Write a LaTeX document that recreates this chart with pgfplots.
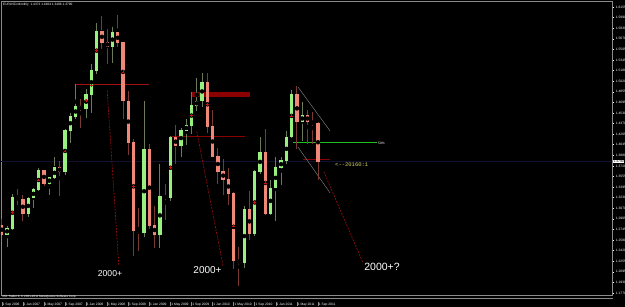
\documentclass[border=0pt]{standalone}
\usepackage{pgfplots}
\pgfplotsset{compat=1.18}
\usepackage{pgfplotstable}
\usepackage{fontspec}
\setmainfont{Liberation Sans}
\newfontfamily\monofont{Liberation Mono}

\definecolor{bullc}{HTML}{98F07E}
\definecolor{bearc}{HTML}{F08878}
\definecolor{bullw}{HTML}{6A7A5A}
\definecolor{bearw}{HTML}{7A3A34}
\definecolor{dred}{HTML}{8B0000}
\definecolor{mred}{HTML}{A01010}
\definecolor{xred}{HTML}{D01010}
\definecolor{framegray}{HTML}{8A8A8A}
\definecolor{bidblue}{HTML}{101030}
\definecolor{ygold}{HTML}{D8D860}
\definecolor{lgreen}{HTML}{20C020}

\pgfplotstableread{
i o h l c
1 1.2670 1.2800 1.2482 1.2760
2 1.2760 1.3282 1.2740 1.3240
5 1.2985 1.3248 1.2930 1.3225
6 1.3225 1.3387 1.3075 1.3355
7 1.3355 1.3682 1.3340 1.3650
9 1.3450 1.3535 1.3265 1.3535
10 1.3535 1.3850 1.3515 1.3690
12 1.3630 1.4280 1.3585 1.4265
13 1.4265 1.4525 1.4065 1.4480
14 1.4480 1.4967 1.4435 1.4625
16 1.4590 1.4900 1.4450 1.4815
17 1.4815 1.5275 1.4525 1.5185
18 1.5185 1.5905 1.5130 1.5785
21 1.5550 1.5845 1.5300 1.5760
27 1.2690 1.4720 1.2635 1.3970
30 1.2670 1.3740 1.2455 1.3250
32 1.3230 1.4170 1.3180 1.4150
34 1.4030 1.4300 1.3850 1.4260
35 1.4260 1.4445 1.4045 1.4340
36 1.4340 1.4845 1.4200 1.4640
37 1.4640 1.5060 1.4555 1.4715
38 1.4715 1.5145 1.4625 1.5005
46 1.2235 1.3100 1.2155 1.3050
48 1.2685 1.3650 1.2645 1.3630
49 1.3630 1.4160 1.3600 1.3930
51 1.2985 1.3500 1.2970 1.3380
52 1.3380 1.3860 1.2870 1.3690
53 1.3690 1.3860 1.3430 1.3800
54 1.3800 1.4250 1.3750 1.4160
55 1.4160 1.4880 1.4150 1.4810
57 1.4390 1.4700 1.4100 1.4500
}\bull

\pgfplotstableread{
i o h l c
0 1.2810 1.2900 1.2656 1.2670
3 1.3240 1.3367 1.3115 1.3200
4 1.3200 1.3270 1.2866 1.2985
8 1.3650 1.3660 1.3415 1.3450
11 1.3690 1.3800 1.3260 1.3630
15 1.4625 1.4750 1.4300 1.4590
19 1.5785 1.6019 1.5510 1.5610
20 1.5610 1.5820 1.5285 1.5550
22 1.5760 1.6038 1.5545 1.5605
23 1.5605 1.5625 1.4435 1.4715
24 1.4715 1.4865 1.3880 1.4080
25 1.4080 1.4125 1.2330 1.2730
26 1.2730 1.3080 1.2420 1.2690
28 1.3970 1.4055 1.2750 1.2800
29 1.2800 1.3100 1.2455 1.2670
31 1.3250 1.3435 1.2885 1.3230
33 1.4150 1.4340 1.3745 1.4030
39 1.5005 1.5140 1.4220 1.4320
40 1.4320 1.4580 1.3860 1.3865
41 1.3865 1.3990 1.3445 1.3630
42 1.3630 1.3820 1.3265 1.3510
43 1.3510 1.3690 1.3115 1.3295
44 1.3295 1.3320 1.2145 1.2270
45 1.2270 1.2470 1.1876 1.2235
47 1.3050 1.3335 1.2590 1.2685
50 1.3930 1.4280 1.2970 1.2985
56 1.4810 1.4940 1.3970 1.4390
58 1.4500 1.4580 1.4050 1.4390
59 1.4390 1.4550 1.4050 1.4375
60 1.4372 1.4384 1.3496 1.3790
}\bear

\pgfplotstableread{
i p
2 1.3000
7 1.3502
12 1.3948
16 1.4720
17 1.4950
18 1.5485
23 1.5160
25 1.3405
32 1.3690
36 1.4490
39 1.4662
44 1.2800
48 1.3158
50 1.3458
55 1.4485
}\crosses

\newcommand{\tb}{\textcolor{framegray}{\rule[-1pt]{0.35pt}{4pt}}\hspace{0.8pt}}

\begin{document}
\begin{tikzpicture}[x=1pt,y=1pt]
\path[use as bounding box, fill=black] (0,0) rectangle (625,307);
\begin{axis}[
  at={(1pt,12pt)}, anchor=south west,
  scale only axis, width=611pt, height=294pt,
  xmin=-0.152, xmax=115.79, ymin=1.17393, ymax=1.62465,
  axis background/.style={fill=black},
  axis line style={draw=framegray, line width=0.7pt},
  clip mode=individual,
  ytick pos=right,
  ytick={1.17700,1.19324,1.20948,1.22572,1.24196,1.25820,1.27444,1.29068,1.30692,1.32316,1.33940,1.35564,1.37188,1.38812,1.40436,1.42060,1.43684,1.45308,1.46932,1.48556,1.50180,1.51804,1.53428,1.55052,1.56676,1.58300,1.59924,1.61548},
  yticklabels={1.1770,1.1930,1.2095,1.2255,1.2420,1.2580,1.2745,1.2905,1.3070,1.3230,1.3395,1.3555,1.3720,1.3880,1.4045,1.4205,1.4370,1.4530,1.4695,1.4855,1.5020,1.5180,1.5345,1.5505,1.5670,1.5830,1.5990,1.6155},
  yticklabel style={font=\fontsize{3.3}{4}\selectfont, text=white, anchor=west, inner sep=0pt, xshift=2.2pt},
  tick align=outside, major tick length=1.5pt,
  y tick style={draw=white, line width=0.4pt},
  xtick={0,4,8,12,16,20,24,28,32,36,40,44,48,52,56,60},
  xticklabels={{\tb 1 Sep 2006},{\tb 1 Jan 2007},{\tb 1 May 2007},{\tb 1 Sep 2007},{\tb 1 Jan 2008},{\tb 1 May 2008},{\tb 1 Sep 2008},{\tb 1 Jan 2009},{\tb 1 May 2009},{\tb 1 Sep 2009},{\tb 1 Jan 2010},{\tb 1 May 2010},{\tb 1 Sep 2010},{\tb 1 Jan 2011},{\tb 1 May 2011},{\tb 1 Sep 2011}},
  x tick style={draw=none},
  xticklabel style={font=\fontsize{3.3}{4}\selectfont, text=white, anchor=west, inner sep=0pt, yshift=-8pt, xshift=-0.5pt},
]
% bid line
\addplot[bidblue, line width=0.7pt] coordinates {(-1,1.3785) (117,1.3785)};
% horizontal objects
\addplot[mred, line width=1.4pt] coordinates {(13.9,1.4967) (27.9,1.4967)};
\addplot[fill=dred, draw=none] coordinates {(36,1.4780) (47.1,1.4780) (47.1,1.4845) (36,1.4845)} -- cycle;
\addplot[dred, line width=0.8pt] coordinates {(32,1.4170) (46.2,1.4170)};
\addplot[lgreen, line width=1pt] coordinates {(55.3,1.4070) (71.2,1.4070)};
\addplot[dred, line width=0.6pt] coordinates {(57.2,1.3824) (62.3,1.3824)};
% channel lines
\addplot[framegray, line width=0.4pt] coordinates {(56.2,1.4928) (62.3,1.4253)};
\addplot[framegray, line width=0.4pt] coordinates {(56.2,1.4008) (62.3,1.3303)};
% dashed projections
\addplot[mred, line width=0.6pt, dash pattern=on 2pt off 1.2pt] coordinates {(20,1.4872) (22.2,1.2190)};
\addplot[mred, line width=0.6pt, dash pattern=on 2pt off 1.2pt] coordinates {(37.0,1.4243) (42.0,1.2180)};
\addplot[mred, line width=0.6pt, dash pattern=on 2pt off 1.2pt] coordinates {(61.1,1.3630) (68.5,1.2240)};
% wicks
\addplot[only marks, mark=none, error bars/.cd, y dir=both, y explicit, error mark=none, error bar style={draw=bullw, line width=0.9pt}]
  table[x=i, y expr={(\thisrow{h}+\thisrow{l})/2}, y error expr={(\thisrow{h}-\thisrow{l})/2}] {\bull};
\addplot[only marks, mark=none, error bars/.cd, y dir=both, y explicit, error mark=none, error bar style={draw=bearw, line width=0.9pt}]
  table[x=i, y expr={(\thisrow{h}+\thisrow{l})/2}, y error expr={(\thisrow{h}-\thisrow{l})/2}] {\bear};
% bodies
\addplot[only marks, mark=none, error bars/.cd, y dir=both, y explicit, error mark=none, error bar style={draw=bullc, line width=3.3pt}]
  table[x=i, y expr={(\thisrow{o}+\thisrow{c})/2}, y error expr={abs(\thisrow{o}-\thisrow{c})/2+0.0006}] {\bull};
\addplot[only marks, mark=none, error bars/.cd, y dir=both, y explicit, error mark=none, error bar style={draw=bearc, line width=3.3pt}]
  table[x=i, y expr={(\thisrow{o}+\thisrow{c})/2}, y error expr={abs(\thisrow{o}-\thisrow{c})/2+0.0006}] {\bear};
% crosses
\addplot[only marks, mark=+, mark size=1.4pt, xred, line width=0.6pt] table[x=i, y=p] {\crosses};
\end{axis}
% frame extras
\draw[framegray, line width=0.6pt] (0,8.5) -- (613,8.5);
\node[font=\fontsize{3}{3.5}\selectfont, text=white, anchor=west, inner sep=0pt] at (2,10.3) {4TA Trader 4, \textcopyright\ 2001-2011 MetaQuotes Software Corp.};
% header
\node[font=\fontsize{3.2}{4}\selectfont, text=white, anchor=west, inner sep=0pt] at (3,302.5) {EURUSD,Monthly \ 1.4372 1.4384 1.3496 1.3790};
% current price box
\node[fill=white, text=black, font=\fontsize{3.3}{4}\selectfont, inner sep=0.4pt, anchor=west] at (613,145.5) {1.3790};
% annotations
\node[font=\fontsize{8.6}{10}\selectfont, text=white] at (110,33.5) {2000+};
\node[font=\fontsize{10}{12}\selectfont, text=white] at (207.5,37) {2000+};
\node[font=\fontsize{10.5}{12}\selectfont, text=white] at (382,40) {2000+?};
\node[font=\monofont\fontsize{5.5}{6}\selectfont, text=ygold, anchor=west, inner sep=0pt] at (335,142.5) {<--20160:1};
\node[font=\fontsize{3.3}{4}\selectfont, text=white, anchor=west, inner sep=0pt] at (378,164) {50\%};
\end{tikzpicture}
\end{document}
